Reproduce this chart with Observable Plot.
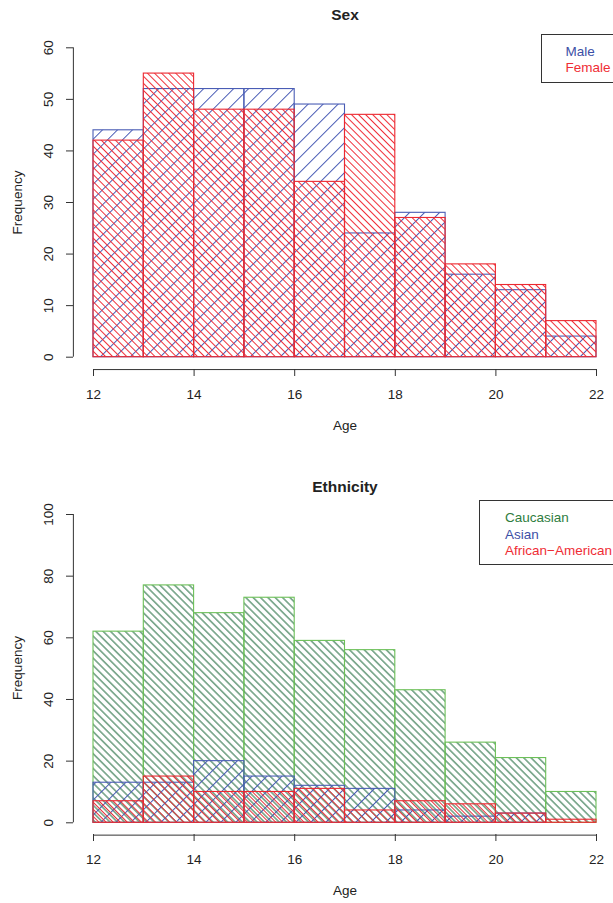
<!DOCTYPE html>
<html>
<head>
<meta charset="utf-8">
<script src="https://cdn.jsdelivr.net/npm/d3@7"></script>
<script src="https://cdn.jsdelivr.net/npm/@observablehq/plot@0.6"></script>
<style>
  html, body { margin: 0; padding: 0; background: #fff; }
  #chart svg { display: block; }
</style>
</head>
<body>
<div id="chart"></div>
<script>
// ---- data ----
const ageBins = [12, 13, 14, 15, 16, 17, 18, 19, 20, 21, 22];
const ageTicks = [12, 14, 16, 18, 20, 22];

const sexMale   = [44, 52, 52, 52, 49, 24, 28, 16, 13, 4];
const sexFemale = [42, 55, 48, 48, 34, 47, 27, 18, 14, 7];
const sexTicksY = [0, 10, 20, 30, 40, 50, 60];
const sexLabels = ["Male", "Female"];

const ethCaucasian = [62, 77, 68, 73, 59, 56, 43, 26, 21, 10];
const ethAsian     = [13, 13, 20, 15, 12, 11, 4, 2, 3, 0];
const ethAfrican   = [7, 15, 10, 10, 11, 4, 7, 6, 3, 1];
const ethTicksY = [0, 20, 40, 60, 80, 100];
const ethLabels = ["Caucasian", "Asian", "African\u2212American"];

// ---- panel builder ----
function panel(opts) {
  const {title, series, yTicks, yMax, height, marginTop, marginBottom,
         yRange, titleDy, legend} = opts;
  const rows = d3.range(ageBins.length - 1).map(i => {
    const r = {lo: ageBins[i], hi: ageBins[i + 1]};
    series.forEach(s => r[s.key] = s.values[i]);
    return r;
  });
  const ext = 0.04 * (ageBins[ageBins.length - 1] - ageBins[0]);
  const yExt = 0.04 * yMax;
  const font = "'Liberation Sans', Arial, Helvetica, sans-serif";
  const txt = {fontSize: 13.5, fill: "#222", lineAnchor: "middle", textAnchor: "middle"};

  const marks = [];
  series.forEach(s => {
    marks.push(Plot.rect(rows, {
      x1: "lo", x2: "hi", y1: 0, y2: s.key,
      fill: "none", stroke: s.border, strokeWidth: 1.1
    }));
  });
  // axes (R style: detached lines spanning first..last tick)
  marks.push(Plot.ruleX([ageBins[0] - ext], {y1: yTicks[0], y2: yTicks[yTicks.length - 1], stroke: "#333"}));
  marks.push(Plot.ruleY([-yExt], {x1: ageTicks[0], x2: ageTicks[ageTicks.length - 1], stroke: "#333"}));
  marks.push(Plot.axisY({anchor: "left", ticks: yTicks, tickSize: 7, tickFormat: () => "", label: null, stroke: "#333"}));
  marks.push(Plot.axisX({anchor: "bottom", ticks: ageTicks, tickSize: 7, tickFormat: () => "", label: null, stroke: "#333"}));
  marks.push(Plot.text(yTicks, {...txt, y: d => d, text: d => String(d), frameAnchor: "left", dx: -25, rotate: -90}));
  marks.push(Plot.text(ageTicks, {...txt, x: d => d, text: d => String(d), frameAnchor: "bottom", dy: 25}));
  marks.push(Plot.text(["Age"], {...txt, text: d => d, frameAnchor: "bottom", dx: 1.5, dy: 56}));
  marks.push(Plot.text(["Frequency"], {...txt, text: d => d, frameAnchor: "left", dx: -56, rotate: -90}));
  marks.push(Plot.text([title], {...txt, text: d => d, frameAnchor: "top", dx: 1.5, dy: titleDy, fontSize: 15.5, fontWeight: "bold"}));

  const svg = Plot.plot({
    width: 613, height,
    marginLeft: 73, marginRight: 0, marginTop, marginBottom,
    x: {domain: [ageBins[0], ageBins[ageBins.length - 1]], range: [93, 596]},
    y: {domain: [0, yMax], range: yRange},
    style: {fontFamily: font, fontSize: "13.5px", background: "#fff", color: "#222", overflow: "hidden"},
    marks
  });

  const root = d3.select(svg);
  const defs = root.insert("defs", ":first-child");
  const rectGroups = root.selectAll('g[aria-label="rect"]').nodes();
  series.forEach((s, i) => {
    const id = "hatch-" + s.key;
    const p = defs.append("pattern")
      .attr("id", id)
      .attr("patternUnits", "userSpaceOnUse")
      .attr("width", s.spacing).attr("height", s.spacing)
      .attr("patternTransform", `rotate(${s.angle})`);
    p.append("line")
      .attr("x1", s.spacing / 2).attr("x2", s.spacing / 2)
      .attr("y1", -1).attr("y2", s.spacing + 1)
      .attr("stroke", s.hatch).attr("stroke-width", 1);
    if (rectGroups[i]) {
      d3.select(rectGroups[i]).attr("fill", `url(#${id})`);
      d3.select(rectGroups[i]).selectAll("rect").attr("fill", `url(#${id})`);
    }
  });

  // legend (R topright legend box)
  const lg = root.append("g").attr("font-family", font).attr("font-size", 13.5).attr("text-anchor", "start");
  lg.append("rect")
    .attr("x", legend.x).attr("y", legend.y)
    .attr("width", 200).attr("height", legend.h)
    .attr("fill", "#fff").attr("stroke", "#333").attr("stroke-width", 1);
  series.forEach((s, i) => {
    lg.append("text")
      .attr("x", legend.tx).attr("y", legend.ty + i * 16.3)
      .attr("fill", s.text)
      .attr("text-anchor", "start")
      .text(s.label);
  });
  return svg;
}

const chart = document.getElementById("chart");

chart.appendChild(panel({
  title: "Sex",
  series: [
    {key: "male", label: sexLabels[0], values: sexMale, hatch: "#4659b4", border: "#4a5db5", text: "#3c4fa6", spacing: 10.6, angle: 45},
    {key: "female", label: sexLabels[1], values: sexFemale, hatch: "#f0303a", border: "#ec2830", text: "#ef2d35", spacing: 5.0, angle: -45}
  ],
  yTicks: sexTicksY, yMax: 60,
  height: 451, marginTop: 35, marginBottom: 82,
  yRange: [356.7, 47.3], titleDy: -20,
  legend: {x: 541.5, y: 34.5, h: 48, tx: 565.5, ty: 55.5}
}));

chart.appendChild(panel({
  title: "Ethnicity",
  series: [
    {key: "cauc", label: ethLabels[0], values: ethCaucasian, hatch: "#1f6a3c", border: "#6cc058", text: "#2e7d3e", spacing: 5.2, angle: -45},
    {key: "asian", label: ethLabels[1], values: ethAsian, hatch: "#4659b4", border: "#4a5db5", text: "#3c4fa6", spacing: 10.6, angle: 45},
    {key: "afr", label: ethLabels[2], values: ethAfrican, hatch: "#e8303a", border: "#ec2830", text: "#ef2d35", spacing: 5.0, angle: -45}
  ],
  yTicks: ethTicksY, yMax: 100,
  height: 452, marginTop: 50, marginBottom: 69,
  yRange: [371.3, 63], titleDy: -14,
  legend: {x: 479.5, y: 49.5, h: 64, tx: 505, ty: 71.3}
}));
</script>
</body>
</html>
